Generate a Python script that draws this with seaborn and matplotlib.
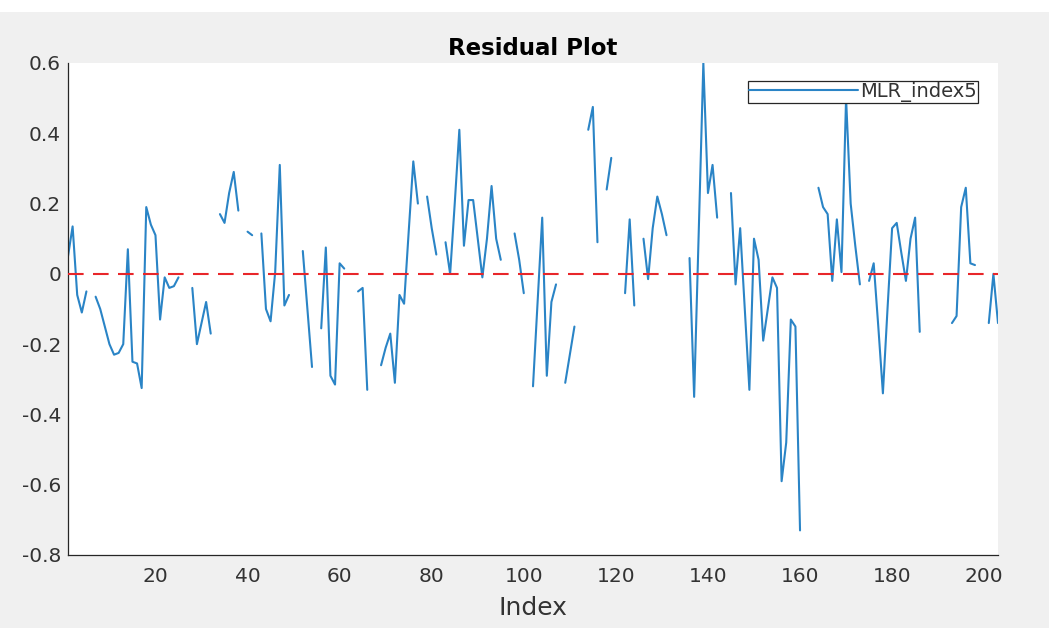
import numpy as np
import pandas as pd
import matplotlib
matplotlib.use('Agg')
import matplotlib.pyplot as plt
import seaborn as sns
from matplotlib.lines import Line2D
from matplotlib.patches import Rectangle

nan = np.nan

# residuals, index 1..203 (gaps = missing values)
residuals = [
    0.05, 0.135, -0.06, -0.11, -0.05, nan, -0.065, -0.10, -0.15, -0.20,
    -0.23, -0.225, -0.20, 0.07, -0.25, -0.255, -0.325, 0.19, 0.14, 0.11,
    -0.13, -0.01, -0.04, -0.035, -0.01, nan, nan, -0.04, -0.20, -0.14,
    -0.08, -0.17, nan, 0.17, 0.145, 0.23, 0.29, 0.18, nan, 0.12,
    0.11, nan, 0.115, -0.10, -0.135, 0.005, 0.31, -0.09, -0.06, nan,
    nan, 0.065, -0.10, -0.265, nan, -0.155, 0.075, -0.29, -0.315, 0.03,
    0.015, nan, nan, -0.05, -0.04, -0.33, nan, nan, -0.26, -0.21,
    -0.17, -0.31, -0.06, -0.085, 0.12, 0.32, 0.20, nan, 0.22, 0.13,
    0.055, nan, 0.09, 0.0, 0.20, 0.41, 0.08, 0.21, 0.21, 0.10,
    -0.01, 0.10, 0.25, 0.10, 0.04, nan, nan, 0.115, 0.04, -0.055,
    nan, -0.32, -0.08, 0.16, -0.29, -0.08, -0.03, nan, -0.31, -0.23,
    -0.15, nan, nan, 0.41, 0.475, 0.09, nan, 0.24, 0.33, nan,
    nan, -0.055, 0.155, -0.09, nan, 0.10, -0.015, 0.13, 0.22, 0.17,
    0.11, nan, nan, nan, nan, 0.045, -0.35, 0.12, 0.60, 0.23,
    0.31, 0.16, nan, nan, 0.23, -0.03, 0.13, -0.10, -0.33, 0.10,
    0.04, -0.19, -0.10, -0.01, -0.04, -0.59, -0.48, -0.13, -0.15, -0.73,
    nan, nan, nan, 0.245, 0.19, 0.17, -0.02, 0.155, 0.005, 0.50,
    0.20, 0.08, -0.03, nan, -0.02, 0.03, -0.15, -0.34, -0.10, 0.13,
    0.145, 0.06, -0.02, 0.10, 0.16, -0.165, nan, nan, nan, nan,
    nan, nan, -0.14, -0.12, 0.19, 0.245, 0.03, 0.025, nan, nan,
    -0.14, 0.0, -0.14,
]
index = list(range(1, len(residuals) + 1))

x_ticks = [20, 40, 60, 80, 100, 120, 140, 160, 180, 200]
y_ticks = [-0.8, -0.6, -0.4, -0.2, 0, 0.2, 0.4, 0.6]
y_tick_labels = ['-0.8', '-0.6', '-0.4', '-0.2', '0', '0.2', '0.4', '0.6']
series_name = 'MLR_index5'

df = pd.DataFrame({'Index': index, 'Residual': residuals})
# each run of non-missing values becomes its own line piece
df['seg'] = df['Residual'].isna().cumsum()
df = df.dropna()

sns.set_style('white')
plt.rcParams['font.family'] = ['DejaVu Sans']

line_color = '#2a84c6'
axis_color = '#262626'

fig = plt.figure(figsize=(10.49, 6.28), dpi=100, facecolor='#f0f0f0')
fig.patches.append(Rectangle((0, 1 - 12 / 628), 1, 12 / 628, transform=fig.transFigure,
                             facecolor='white', edgecolor='none', zorder=-1))
ax = fig.add_axes([68 / 1049, 1 - 555 / 628, 930 / 1049, 492 / 628])
ax.set_facecolor('white')

sns.lineplot(data=df, x='Index', y='Residual', units='seg', estimator=None,
             sort=False, color=line_color, linewidth=1.5, ax=ax, legend=False)
ax.axhline(0, color='#e8262a', linewidth=1.5, linestyle=(0, (7.5, 4.5)), zorder=3)

ax.set_xlim(1, 203)
ax.set_ylim(-0.8, 0.6)
ax.set_xticks(x_ticks)
ax.set_yticks(y_ticks)
ax.set_yticklabels(y_tick_labels)
ax.tick_params(direction='in', length=4, width=0.9, color=axis_color,
               labelcolor='#333333', labelsize=14.5)
ax.tick_params(axis='x', pad=9)
ax.tick_params(axis='y', pad=5)

for side in ['top', 'right']:
    ax.spines[side].set_visible(False)
for side in ['left', 'bottom']:
    ax.spines[side].set_color(axis_color)
    ax.spines[side].set_linewidth(0.9)

ax.set_xlabel('Index', fontsize=18, color='#333333', labelpad=7)
ax.set_ylabel('')
ax.set_title('Residual Plot', fontsize=16.5, fontweight='bold', color='black', pad=6)

handle = Line2D([0], [0], color=line_color, linewidth=1.5)
leg = ax.legend([handle], [series_name], loc='upper right',
                bbox_to_anchor=((978 - 68) / 930, 1 - (81 - 63) / 492),
                borderaxespad=0, fontsize=14, frameon=True, fancybox=False,
                framealpha=1, edgecolor=axis_color, handlelength=5.6,
                handletextpad=0.1, borderpad=0.05)
leg.get_frame().set_linewidth(0.9)
leg.set_zorder(5)
for t in leg.get_texts():
    t.set_color('#333333')

fig.savefig('out.png', dpi=100, facecolor=fig.get_facecolor())
